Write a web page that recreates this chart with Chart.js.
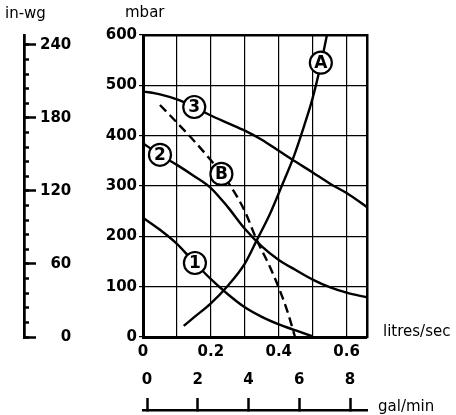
<!DOCTYPE html>
<html>
<head>
<meta charset="utf-8">
<script src="https://cdn.jsdelivr.net/npm/chart.js@4"></script>
<style>
  html, body { margin: 0; padding: 0; background: #fff; }
  #wrap { width: 456px; height: 415px; }
</style>
</head>
<body>
<div id="wrap"><canvas id="chart"></canvas></div>
<script>
// flow in litres/sec, pressure in mbar
const flow = [0, 0.05, 0.1, 0.15, 0.2, 0.25, 0.3, 0.35, 0.4, 0.45, 0.5, 0.55, 0.6, 0.66];
const pump3 = [488, 482, 472, 457, 440, 425, 410, 392, 370, 348, 327, 305, 286, 258];
const pump2 = [385, 362, 342, 320, 296, 258, 215, 180, 153, 133, 114, 99, 88, 79];

const flow1 = [0, 0.05, 0.1, 0.15, 0.2, 0.25, 0.3, 0.35, 0.4, 0.45, 0.5];
const pump1 = [237, 213, 185, 149, 115, 85, 59, 40, 25, 13, 1];

const flowA = [0.12, 0.15, 0.2, 0.25, 0.3, 0.335, 0.375, 0.41, 0.445, 0.475, 0.5, 0.525, 0.542];
const systemA = [22, 39, 67, 102, 146, 192, 246, 302, 360, 420, 475, 545, 600];

const flowB = [0.05, 0.1, 0.15, 0.2, 0.25, 0.3, 0.335, 0.37, 0.4, 0.425, 0.448];
const systemB = [461, 426, 390, 351, 308, 250, 193, 145, 98, 52, 0];

// circled curve labels
const markerLabels = ['A', '3', '2', 'B', '1'];
const markerX = [0.524, 0.151, 0.05, 0.231, 0.153];
const markerY = [545, 457, 362, 324, 147];

// labelled ticks
const flowTicks = [0, 0.2, 0.4, 0.6];
const axisTitles = ['in-wg', 'mbar', 'litres/sec', 'gal/min'];

const pts = (xs, ys) => xs.map((x, i) => ({ x: x, y: ys[i] }));

Chart.defaults.font.family = "'DejaVu Sans', sans-serif";
Chart.defaults.color = '#000';

const tickFont = { size: 15, weight: 'bold' };

const curve = (data, extra) => Object.assign({
  data: data,
  borderColor: '#000',
  borderWidth: 2.4,
  pointRadius: 0,
  cubicInterpolationMode: 'monotone',
  fill: false
}, extra || {});

const titlesPlugin = {
  id: 'titles',
  afterDraw(chart) {
    const { ctx, chartArea: a, scales } = chart;
    ctx.save();
    ctx.font = '15px "DejaVu Sans"';
    ctx.fillStyle = '#000';
    ctx.textBaseline = 'alphabetic';
    ctx.textAlign = 'left';
    ctx.fillText(axisTitles[0], scales.inwg.right - 19, a.top - 17);
    ctx.fillText(axisTitles[1], a.left - 18, a.top - 18);
    ctx.fillText(axisTitles[2], a.right + 16, a.bottom - 1);
    ctx.fillText(axisTitles[3], a.right + 11, scales.gal.top + 1);
    ctx.restore();
  }
};

const markerText = {
  id: 'markerText',
  afterDatasetsDraw(chart) {
    const ctx = chart.ctx;
    const meta = chart.getDatasetMeta(0);
    ctx.save();
    ctx.font = 'bold 17px "DejaVu Sans"';
    ctx.fillStyle = '#000';
    ctx.textAlign = 'center';
    ctx.textBaseline = 'middle';
    meta.data.forEach((p, i) => ctx.fillText(markerLabels[i], p.x, p.y + 1));
    ctx.restore();
  }
};

new Chart(document.getElementById('chart'), {
  type: 'line',
  data: {
    datasets: [
      {
        data: pts(markerX, markerY),
        showLine: false,
        pointRadius: 11,
        pointBackgroundColor: '#fff',
        pointBorderColor: '#000',
        pointBorderWidth: 2.2,
        order: -1
      },
      curve(pts(flow, pump3)),
      curve(pts(flow, pump2)),
      curve(pts(flow1, pump1)),
      curve(pts(flowA, systemA)),
      curve(pts(flowB, systemB), { borderDash: [9, 5] })
    ]
  },
  options: {
    responsive: true,
    maintainAspectRatio: false,
    animation: false,
    events: [],
    layout: { padding: { left: 24, top: 35, right: 89, bottom: 5 } },
    plugins: { legend: { display: false }, tooltip: { enabled: false } },
    scales: {
      x: {
        type: 'linear', position: 'bottom', weight: 0,
        min: 0, max: 0.66,
        ticks: {
          stepSize: 0.1, includeBounds: false, autoSkip: false, maxRotation: 0,
          padding: 6, font: tickFont, color: '#000',
          callback: v => flowTicks.includes(v) ? (v === 0 ? '0' : v.toFixed(1)) : ''
        },
        grid: { color: '#000', lineWidth: 1.2, drawTicks: false },
        border: { color: '#000', width: 3 },
        afterFit: s => { s.height = 73; }
      },
      gal: {
        type: 'linear', position: 'bottom', weight: 1,
        min: -0.16, max: 8.67,
        ticks: {
          stepSize: 2, includeBounds: false, autoSkip: false, maxRotation: 0,
          mirror: true, padding: 21, font: tickFont, color: '#000'
        },
        grid: { drawOnChartArea: false, tickLength: -12, tickWidth: 2.5, tickColor: '#000' },
        border: { color: '#000', width: 2.5 },
        afterFit: s => { s.height = 0; }
      },
      xTop: {
        type: 'linear', position: 'top',
        ticks: { display: false },
        grid: { drawOnChartArea: false, drawTicks: false },
        border: { color: '#000', width: 2.5 },
        afterFit: s => { s.height = 0; }
      },
      y: {
        type: 'linear', position: 'left', weight: 0,
        min: 0, max: 600,
        ticks: { stepSize: 100, padding: 2, font: tickFont, color: '#000' },
        grid: { color: '#000', lineWidth: 1.2, tickLength: 4 },
        border: { color: '#000', width: 3 },
        afterFit: s => { s.width = 119; }
      },
      inwg: {
        type: 'linear', position: 'left', weight: 1,
        min: 0, max: 248.2,
        ticks: {
          stepSize: 60, includeBounds: false, mirror: true, crossAlign: 'far',
          padding: 16, font: tickFont, color: '#000'
        },
        grid: { drawOnChartArea: false, tickLength: -12, tickWidth: 2.5, tickColor: '#000' },
        border: { color: '#000', width: 2.5 },
        afterFit: s => { s.width = 0; }
      },
      inwgMinor: {
        type: 'linear', position: 'left', weight: 2,
        min: 0, max: 248.2,
        ticks: { stepSize: 12, includeBounds: false, display: false },
        grid: { drawOnChartArea: false, tickLength: -5, tickWidth: 2.5, tickColor: '#000' },
        border: { color: '#000', width: 2.5 },
        afterFit: s => { s.width = 0; }
      },
      yRight: {
        type: 'linear', position: 'right',
        ticks: { display: false },
        grid: { drawOnChartArea: false, drawTicks: false },
        border: { color: '#000', width: 2.5 },
        afterFit: s => { s.width = 0; }
      }
    }
  },
  plugins: [titlesPlugin, markerText]
});
</script>
</body>
</html>
